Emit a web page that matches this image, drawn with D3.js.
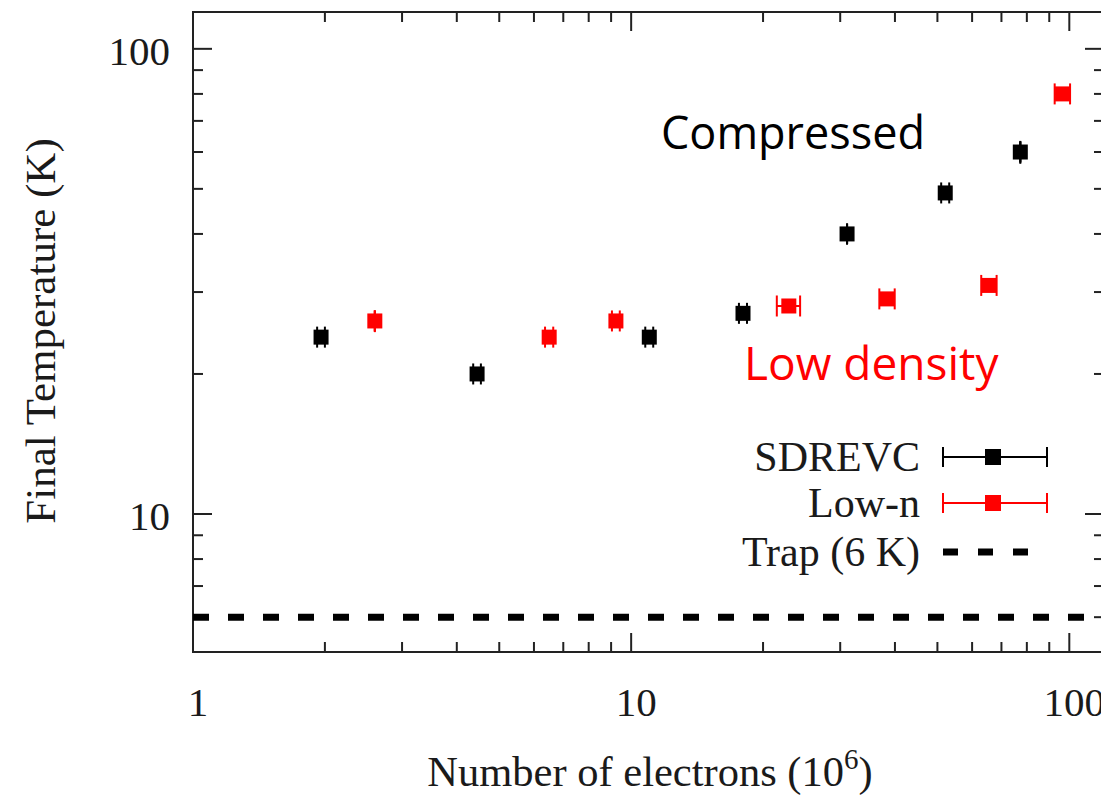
<!DOCTYPE html>
<html>
<head>
<meta charset="utf-8">
<script src="https://cdn.jsdelivr.net/npm/d3@7"></script>
<style>
  html, body { margin: 0; padding: 0; background: #fff; }
  svg { display: block; }
</style>
</head>
<body>
<script>
// ---------- data ----------
const sdrevcX    = [1.96, 4.45, 11.0, 18.0, 31.1, 52.1, 77.3];
const sdrevcY    = [24, 20, 24, 27, 40, 49, 60];
const sdrevcXErr = [0.04, 0.09, 0.23, 0.38, 0, 1.1, 0];
const sdrevcYErr = [0.5, 0.4, 0.5, 0.5, 2.0, 1.0, 3.4];

const lowNX    = [2.60, 6.50, 9.23, 22.9, 38.4, 65.6, 96.5];
const lowNY    = [26, 24, 26, 28, 29, 31, 80];
const lowNXErr = [0, 0.14, 0.19, 1.4, 1.55, 2.65, 3.9];
const lowNYErr = [1.4, 0.5, 0.5, 0.5, 0.5, 0.6, 1.5];

const trapT = 6;

const xTickLabels = [1, 10, 100];
const yTickLabels = [10, 100];
const xMinorTicks = [2,3,4,5,6,7,8,9,20,30,40,50,60,70,80,90];
const yMinorTicks = [6,7,8,9,20,30,40,50,60,70,80,90];

const seriesNames = ["SDREVC", "Low-n", "Trap (6 K)"];
const annotations = ["Compressed", "Low density"];

(function () {
// ---------- layout ----------
const W = 1101, H = 797;
const pL = 193, pR = 1104, pT = 12, pB = 652;
const serif = "'Liberation Serif', 'Times New Roman', serif";
const sans = "'Open Sans', 'Noto Sans', sans-serif";

const svg = d3.select("body").append("svg")
  .attr("width", W).attr("height", H);

const x = d3.scaleLog().domain([1, 120]).range([pL, pR]);
const y = d3.scaleLog().domain([5.05, 120]).range([pB, pT]);

const frameColor = "#222";
const majorLen = 19, minorLen = 10;

// ticks
const tg = svg.append("g").attr("stroke", frameColor).attr("stroke-width", 2);
function xTick(v, len) {
  tg.append("line").attr("x1", x(v)).attr("x2", x(v)).attr("y1", pB).attr("y2", pB - len);
  tg.append("line").attr("x1", x(v)).attr("x2", x(v)).attr("y1", pT).attr("y2", pT + len);
}
function yTick(v, len) {
  tg.append("line").attr("y1", y(v)).attr("y2", y(v)).attr("x1", pL).attr("x2", pL + len);
  tg.append("line").attr("y1", y(v)).attr("y2", y(v)).attr("x1", pR).attr("x2", pR - len);
}
xTickLabels.forEach(v => xTick(v, majorLen));
xMinorTicks.forEach(v => xTick(v, minorLen));
yTickLabels.forEach(v => yTick(v, majorLen));
yMinorTicks.forEach(v => yTick(v, minorLen));

// frame
svg.append("rect").attr("x", pL).attr("y", pT)
  .attr("width", pR - pL).attr("height", pB - pT)
  .attr("fill", "none").attr("stroke", frameColor).attr("stroke-width", 2);

// tick labels
svg.append("g").selectAll("text").data(xTickLabels).join("text")
  .attr("x", d => x(d) + 5).attr("y", 716)
  .attr("text-anchor", "middle")
  .attr("font-family", serif).attr("font-size", 41).attr("fill", "#1a1a1a")
  .text(d => d);
svg.append("g").selectAll("text").data(yTickLabels).join("text")
  .attr("x", 170).attr("y", d => y(d) + 16.5)
  .attr("text-anchor", "end")
  .attr("font-family", serif).attr("font-size", 41).attr("fill", "#1a1a1a")
  .text(d => d);

// axis titles
const xt = svg.append("text").attr("x", 650).attr("y", 786)
  .attr("text-anchor", "middle")
  .attr("font-family", serif).attr("font-size", 42.5).attr("fill", "#1a1a1a");
xt.append("tspan").text("Number of electrons (10");
xt.append("tspan").attr("font-size", 29).attr("dy", -17).text("6");
xt.append("tspan").attr("dy", 17).text(")");

svg.append("text")
  .attr("transform", "translate(55,331) rotate(-90)")
  .attr("text-anchor", "middle")
  .attr("font-family", serif).attr("font-size", 43).attr("fill", "#1a1a1a")
  .text("Final Temperature (K)");

// trap line
const plot = svg.append("g");
plot.append("line")
  .attr("x1", pL).attr("x2", pR)
  .attr("y1", y(trapT)).attr("y2", y(trapT))
  .attr("stroke", "#000").attr("stroke-width", 7)
  .attr("stroke-dasharray", "16,19");

// error bar series
const capH = 10.5, markerS = 15;
function drawSeries(xs, ys, xe, ye, color) {
  const g = plot.append("g").attr("stroke", color).attr("stroke-width", 2);
  xs.forEach((xv, i) => {
    const cx = x(xv), cy = y(ys[i]);
    g.append("line").attr("x1", cx).attr("x2", cx)
      .attr("y1", y(ys[i] - ye[i])).attr("y2", y(ys[i] + ye[i]));
    const xl = x(xv - xe[i]), xr = x(xv + xe[i]);
    g.append("line").attr("x1", xl).attr("x2", xr).attr("y1", cy).attr("y2", cy);
    [xl, xr].forEach(xx => {
      g.append("line").attr("x1", xx).attr("x2", xx)
        .attr("y1", cy - capH).attr("y2", cy + capH);
    });
  });
  plot.append("g").selectAll("rect").data(xs).join("rect")
    .attr("x", (d) => x(d) - markerS / 2)
    .attr("y", (d, i) => y(ys[i]) - markerS / 2)
    .attr("width", markerS).attr("height", markerS)
    .attr("fill", color);
}
drawSeries(sdrevcX, sdrevcY, sdrevcXErr, sdrevcYErr, "#000");
drawSeries(lowNX, lowNY, lowNXErr, lowNYErr, "#ff0000");

// annotations
svg.append("text").attr("x", 661).attr("y", 149)
  .attr("font-family", sans).attr("font-size", 45).attr("fill", "#000")
  .text(annotations[0]);
svg.append("text").attr("x", 744).attr("y", 380)
  .attr("font-family", sans).attr("font-size", 46).attr("fill", "#ff0000")
  .text(annotations[1]);

// legend
const legRows = [457, 503, 552];
const legColors = ["#000", "#ff0000"];
const lg = svg.append("g");
seriesNames.forEach((name, i) => {
  lg.append("text").attr("x", 920).attr("y", legRows[i] + 14)
    .attr("text-anchor", "end")
    .attr("font-family", serif).attr("font-size", 42).attr("fill", "#1a1a1a")
    .text(name);
});
legColors.forEach((c, i) => {
  const cy = legRows[i];
  const g = lg.append("g").attr("stroke", c).attr("stroke-width", 2);
  g.append("line").attr("x1", 943).attr("x2", 1047).attr("y1", cy).attr("y2", cy);
  [943, 1047].forEach(xx => g.append("line").attr("x1", xx).attr("x2", xx)
    .attr("y1", cy - 10).attr("y2", cy + 10));
  lg.append("rect").attr("x", 993 - 8).attr("y", cy - 8)
    .attr("width", 16).attr("height", 16).attr("fill", c);
});
lg.append("line").attr("x1", 943).attr("x2", 1030)
  .attr("y1", legRows[2]).attr("y2", legRows[2])
  .attr("stroke", "#000").attr("stroke-width", 7)
  .attr("stroke-dasharray", "15,20");
})();
</script>
</body>
</html>
